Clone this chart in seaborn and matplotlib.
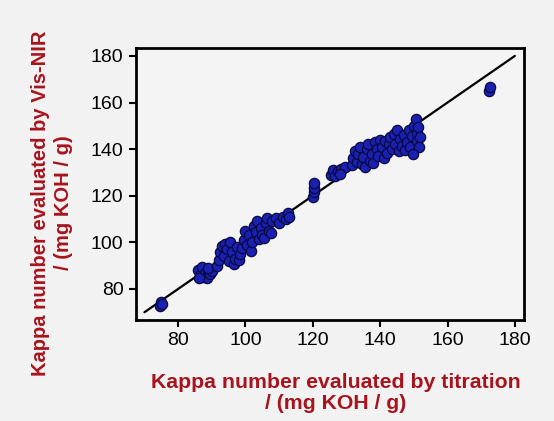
import matplotlib
matplotlib.use("Agg")
import matplotlib.pyplot as plt
import seaborn as sns
import pandas as pd

titration = [74.5, 74.8, 75.2,
             86, 86.5, 87, 87.5, 88, 88.5, 89, 89.5, 90, 86.2, 88.8,
             91.5, 92, 92.5, 93, 93.5, 94, 94.5, 95, 95.5, 96, 96.5, 97, 97.5, 98, 98.5, 99,
             99.5, 100, 100.5, 101, 101.5, 102, 102.5, 103, 103.5, 104, 104.5, 105, 105.5, 106, 106.5, 107, 107.5, 108,
             109, 110, 111, 112, 112.5, 113,
             120.2, 120.3, 120.4, 120.5,
             125.5, 126, 126.5, 127.5, 128.5, 129.5, 128,
             131.5, 132, 132.5, 133, 133.5, 134, 134.5, 135, 135.5, 136, 136.5, 137, 137.5, 138, 138.5, 139, 139.5, 140, 140.5, 141, 141.5, 142, 142.5,
             143, 143.5, 144, 144.5, 145, 145.5, 146, 146.5, 147, 147.5, 148, 148.5, 149, 149.5, 150, 150.5, 150.8, 151, 151.3, 151.5, 151.8, 149.8,
             172.3, 172.6]
visnir = [72.5, 74.2, 73.5,
          88, 86, 89.5, 85, 87, 84.5, 88, 86.5, 87.5, 84.8, 89,
          90, 92.5, 96, 98.5, 94, 99.5, 97, 92, 100, 96, 90.5, 93, 98, 92.5, 95, 97.5,
          101, 105, 99, 103, 96.5, 100, 107, 104.5, 109, 101.5, 106, 103, 102, 108.5, 110.5, 105, 104, 109,
          110.5, 108.5, 111, 110, 112.5, 111,
          119.5, 121.5, 123.5, 125.5,
          129, 131, 128.5, 130.5, 131.5, 132.5, 129.5,
          133, 136, 139, 134.5, 138, 141, 133.5, 136.5, 132.5, 140, 142, 135, 138, 134, 143, 140, 137, 144, 141, 136, 143.5, 138.5, 142,
          145, 140, 146.5, 142, 148, 139, 144.5, 141.5, 146, 139.5, 143, 148, 141, 145.5, 150, 153, 147, 143.5, 149.5, 141, 145, 138,
          165, 166.5]
line_x = [70, 180]
line_y = [70, 180]
ticks = [80, 100, 120, 140, 160, 180]
xlabel = "Kappa number evaluated by titration\n/ (mg KOH / g)"
ylabel = "Kappa number evaluated by Vis-NIR\n/ (mg KOH / g)"

sns.set_style("ticks")
plt.rcParams['font.family'] = ['Liberation Sans', 'DejaVu Sans']

df = pd.DataFrame({"x": titration, "y": visnir})
fig = plt.figure(figsize=(5.54, 4.21), dpi=100)
fig.patch.set_facecolor("#f2f2f2")
ax = fig.add_axes([0.2455, 0.240, 0.7003, 0.646])
ax.set_facecolor("#f4f4f4")

sns.lineplot(x=line_x, y=line_y, ax=ax, color="black", linewidth=1.6, zorder=2)
sns.scatterplot(data=df, x="x", y="y", ax=ax, s=55, color="#1a20b0",
                edgecolor="#0a0a40", linewidth=0.9, zorder=3)

ax.set_xlim(67.5, 182.7)
ax.set_ylim(66.7, 183.4)
ax.set_xticks(ticks)
ax.set_yticks(ticks)
ax.tick_params(labelsize=14, length=5, width=1.5, colors="black", pad=4)
for sp in ax.spines.values():
    sp.set_linewidth(2)
    sp.set_color("black")
ax.set_xlabel(xlabel, fontsize=15.3, fontweight="bold", color="#a8141e", linespacing=1.12)
ax.set_ylabel(ylabel, fontsize=14.5, fontweight="bold", color="#a8141e", linespacing=1.3)
ax.xaxis.label.set_va("center")
ax.yaxis.label.set_va("center")
ax.xaxis.set_label_coords(0.515, -0.27)
ax.yaxis.set_label_coords(-0.216, 0.43)
fig.savefig("out.png", dpi=100, facecolor=fig.get_facecolor())
